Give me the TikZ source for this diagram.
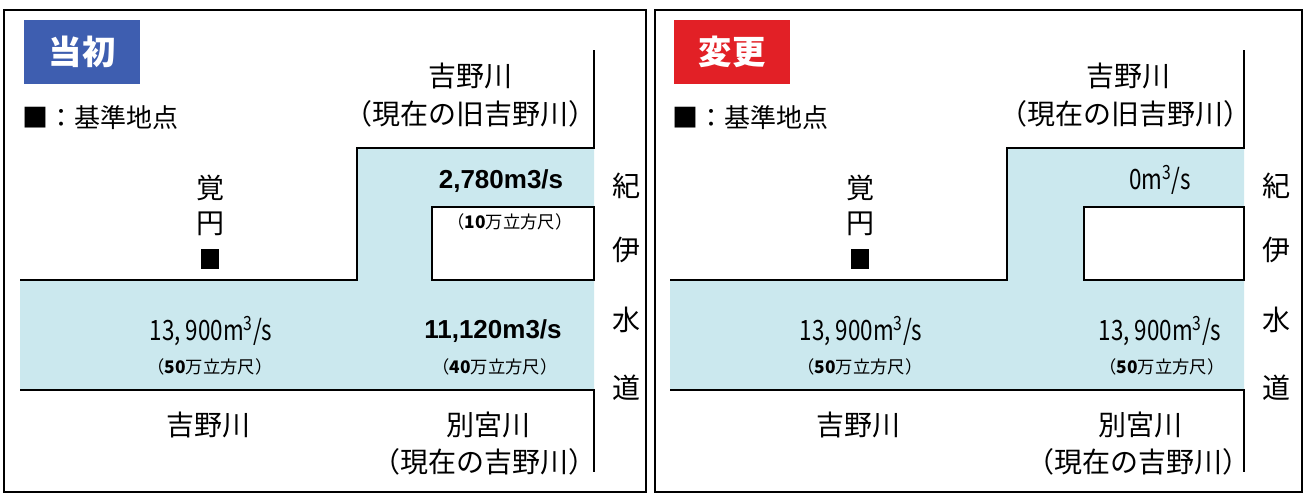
\documentclass[tikz,border=0pt]{standalone}
\usepackage{fontspec}
\setmainfont{Noto Sans CJK JP}
\newfontfamily\arialf{Liberation Sans}
\definecolor{river}{RGB}{203,232,238}
\definecolor{tblue}{RGB}{62,94,176}
\definecolor{tred}{RGB}{226,32,38}
\tikzset{
  frame/.style={draw=black,line width=1.5pt},
  bank/.style={draw=black,line width=2pt},
  lbl/.style={inner sep=0pt,font=\fontsize{21}{23}\selectfont},
  legend/.style={inner sep=0pt,font=\fontsize{19.5}{22}\selectfont,anchor=west},
  sm/.style={inner sep=0pt,font=\fontsize{13}{15}\selectfont},
  flow/.style={inner sep=0pt,font=\fontsize{21}{23}\selectfont},
  boldflow/.style={inner sep=0pt,font=\arialf\bfseries\fontsize{19.5}{22}\selectfont},
  title/.style={minimum width=116*0.75pt,minimum height=64*0.75pt,inner sep=0pt,text=white,font=\bfseries\fontsize{25}{28}\selectfont},
  refmark/.style={fill=black,minimum width=13.5pt,minimum height=15pt,inner sep=0pt},
}
\newcommand{\cflow}[1]{\scalebox{0.8}[1]{#1}}
\begin{document}
\begin{tikzpicture}[x=0.75pt,y=-0.75pt]
\useasboundingbox (0,0) rectangle (1308,496);
\fill[white] (0,0) rectangle (1308,496);
% frames
\draw[frame] (4,10) rectangle (646,492);
\draw[frame] (655,10) rectangle (1302,492);

% ===== left panel =====
\fill[river] (20,280) -- (357,280) -- (357,148) -- (594,148) -- (594,390) -- (20,390) -- cycle;
\draw[bank,fill=white] (432,207) rectangle (594,280);
\draw[bank] (594,50) -- (594,148) -- (357,148) -- (357,280) -- (20,280);
\draw[bank] (20,390) -- (594,390) -- (594,472);
\node[title,fill=tblue] (t1) at (82,52) {当初};
\node[legend] (lg1) at (22,118) {■：基準地点};
\node[lbl] (u1) at (470,76) {吉野川};
\node[lbl] (u1b) at (470,114) {（現在の旧吉野川）};
\node[lbl] (k1) at (210,188) {覚};
\node[lbl] (e1) at (210,224) {円};
\node[refmark] (m1) at (210,259) {};
\node[boldflow] (f1) at (501,181) {2,780m3/s};
\node[sm] (f1b) at (510,222) {（\textbf{10}万立方尺）};
\node[flow] (f2) at (211,331) {\cflow{13, 900m\textsuperscript{3}/s}};
\node[sm] (f2b) at (210,367) {（\textbf{50}万立方尺）};
\node[boldflow] (f3) at (493,331) {11,120m3/s};
\node[sm] (f3b) at (495,367) {（\textbf{40}万立方尺）};
\node[lbl] (d1) at (208,425) {吉野川};
\node[lbl] (b1) at (488,425) {別宮川};
\node[lbl] (b1b) at (484,462) {（現在の吉野川）};
\node[lbl] (s1a) at (626,186) {紀};
\node[lbl] (s1b) at (626,250) {伊};
\node[lbl] (s1c) at (626,320) {水};
\node[lbl] (s1d) at (626,388) {道};

% ===== right panel =====
\begin{scope}[shift={(650,0)}]
\fill[river] (20,280) -- (357,280) -- (357,148) -- (594,148) -- (594,390) -- (20,390) -- cycle;
\draw[bank,fill=white] (434,207) rectangle (594,280);
\draw[bank] (594,50) -- (594,148) -- (357,148) -- (357,280) -- (20,280);
\draw[bank] (20,390) -- (594,390) -- (594,472);
\node[title,fill=tred] (t2) at (82,52) {変更};
\node[legend] (lg2) at (22,118) {■：基準地点};
\node[lbl] (u2) at (478,76) {吉野川};
\node[lbl] (u2b) at (475,114) {（現在の旧吉野川）};
\node[lbl] (k2) at (210,188) {覚};
\node[lbl] (e2) at (210,224) {円};
\node[refmark] (m2) at (210,259) {};
\node[flow] (g1) at (510,180) {\cflow{0m\textsuperscript{3}/s}};
\node[flow] (g2) at (211,331) {\cflow{13, 900m\textsuperscript{3}/s}};
\node[sm] (g2b) at (210,367) {（\textbf{50}万立方尺）};
\node[flow] (g3) at (510,331) {\cflow{13, 900m\textsuperscript{3}/s}};
\node[sm] (g3b) at (512,367) {（\textbf{50}万立方尺）};
\node[lbl] (d2) at (208,425) {吉野川};
\node[lbl] (b2) at (490,425) {別宮川};
\node[lbl] (b2b) at (488,462) {（現在の吉野川）};
\node[lbl] (s2a) at (626,186) {紀};
\node[lbl] (s2b) at (626,250) {伊};
\node[lbl] (s2c) at (626,320) {水};
\node[lbl] (s2d) at (626,388) {道};
\end{scope}
\end{tikzpicture}
\end{document}
